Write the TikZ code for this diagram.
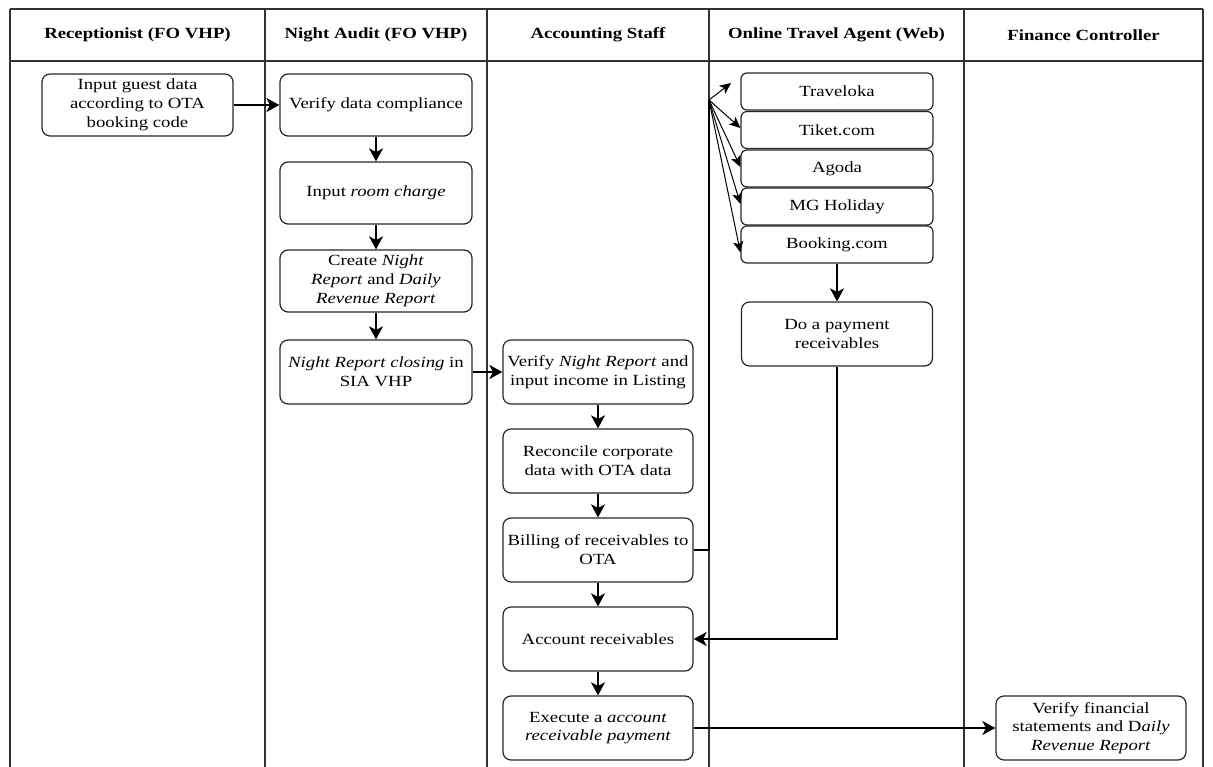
\documentclass[tikz,border=0pt]{standalone}
\usepackage{fontspec}
\setmainfont[FakeStretch=1.21]{Liberation Serif}
\usetikzlibrary{arrows.meta}
\begin{document}
\begin{tikzpicture}[x=1pt,y=-1pt,
  box/.style={draw=black!85, line width=1.2pt, rounded corners=8pt, align=center,
    font=\fontsize{15.5}{18.8}\selectfont, inner sep=2pt,
    minimum width=190pt, minimum height=63pt},
  ota/.style={box, minimum height=37pt, rounded corners=6pt},
  lane/.style={draw=black!80, line width=1.3pt},
  hdr/.style={font=\bfseries\fontsize{15.5}{18.8}\selectfont},
  arr/.style={-{Stealth[length=13pt,width=14pt,inset=3.5pt]}, line width=1.5pt},
  fanarr/.style={-{Stealth[length=11pt,width=10pt,inset=2.5pt]}, line width=1pt}]
\useasboundingbox (0,0) rectangle (1213,767);
% lanes
\draw[lane] (10,9) -- (1203,9);
\draw[lane] (10,61) -- (1203,61);
\foreach \x in {10,265,487,709,964,1203} \draw[lane] (\x,9) -- (\x,767);
% headers
\node[hdr] (h1) at (137.5,35) {Receptionist (FO VHP)};
\node[hdr] (h2) at (376,35) {Night Audit (FO VHP)};
\node[hdr] (h3) at (598,35) {Accounting Staff};
\node[hdr] (h4) at (836.5,35) {Online Travel Agent (Web)};
\node[hdr] (h5) at (1083.5,35) {Finance Controller};
% receptionist
\node[box, minimum width=191pt, minimum height=62pt] (rec) at (137.5,105) {Input guest data\\according to OTA\\booking code};
% night audit
\node[box, minimum width=192pt, minimum height=62pt] (vdc) at (376,105) {Verify data compliance};
\node[box, minimum width=192pt, minimum height=62pt] (irc) at (376,193) {Input \textit{room charge}};
\node[box, minimum width=192pt, minimum height=62pt] (cnr) at (376,281) {Create \textit{Night}\\\textit{Report} and \textit{Daily}\\\textit{Revenue Report}};
\node[box, minimum width=192pt, minimum height=64pt] (nrc) at (376,372) {\textit{Night Report closing} in\\SIA VHP};
% accounting
\node[box, minimum height=64pt] (vnr) at (598,372) {Verify \textit{Night Report} and\\input income in Listing};
\node[box, minimum height=64pt] (rcd) at (598,461) {Reconcile corporate\\data with OTA data};
\node[box, minimum height=64pt] (bil) at (598,550) {Billing of receivables to\\OTA};
\node[box, minimum height=64pt] (acr) at (598,639) {Account receivables};
\node[box, minimum height=64pt] (exe) at (598,728) {Execute a \textit{account}\\\textit{receivable payment}};
% OTA
\node[ota, minimum width=192pt] (tvl) at (837,91.5) {Traveloka};
\node[ota, minimum width=192pt] (tik) at (837,130) {Tiket.com};
\node[ota, minimum width=192pt] (agd) at (837,168.5) {Agoda};
\node[ota, minimum width=192pt] (mgh) at (837,206.5) {MG Holiday};
\node[ota, minimum width=192pt] (bkg) at (837,244.5) {Booking.com};
\node[box, minimum width=191pt, minimum height=64pt] (pay) at (837,334) {Do a payment\\receivables};
% finance
\node[box, minimum height=64pt] (fin) at (1091,728) {Verify financial\\statements and D\textit{aily}\\\textit{Revenue Report}};
% connectors
\draw[arr] (rec) -- (vdc);
\draw[arr] (vdc) -- (irc);
\draw[arr] (irc) -- (cnr);
\draw[arr] (cnr) -- (nrc);
\draw[arr] (nrc) -- (vnr);
\draw[arr] (vnr) -- (rcd);
\draw[arr] (rcd) -- (bil);
\draw[arr] (bil) -- (acr);
\draw[arr] (acr) -- (exe);
\coordinate (fan) at (709,100);
\coordinate (tvtip) at (731,83);
\draw[line width=1.3pt] (bil.east) -- (fan |- bil.east) -- (fan);
\draw[fanarr] (fan) -- (tvtip);
\draw[fanarr] (fan) -- ([yshift=2pt]tik.west);
\draw[fanarr] (fan) -- ([yshift=1.5pt]agd.west);
\draw[fanarr] (fan) -- ([yshift=2.5pt]mgh.west);
\draw[fanarr] (fan) -- ([yshift=-8pt]bkg.west);
\draw[arr] (bkg) -- (pay);
\draw[arr] (pay.south) |- (acr.east);
\draw[arr] (exe) -- (fin);
\end{tikzpicture}
\end{document}
